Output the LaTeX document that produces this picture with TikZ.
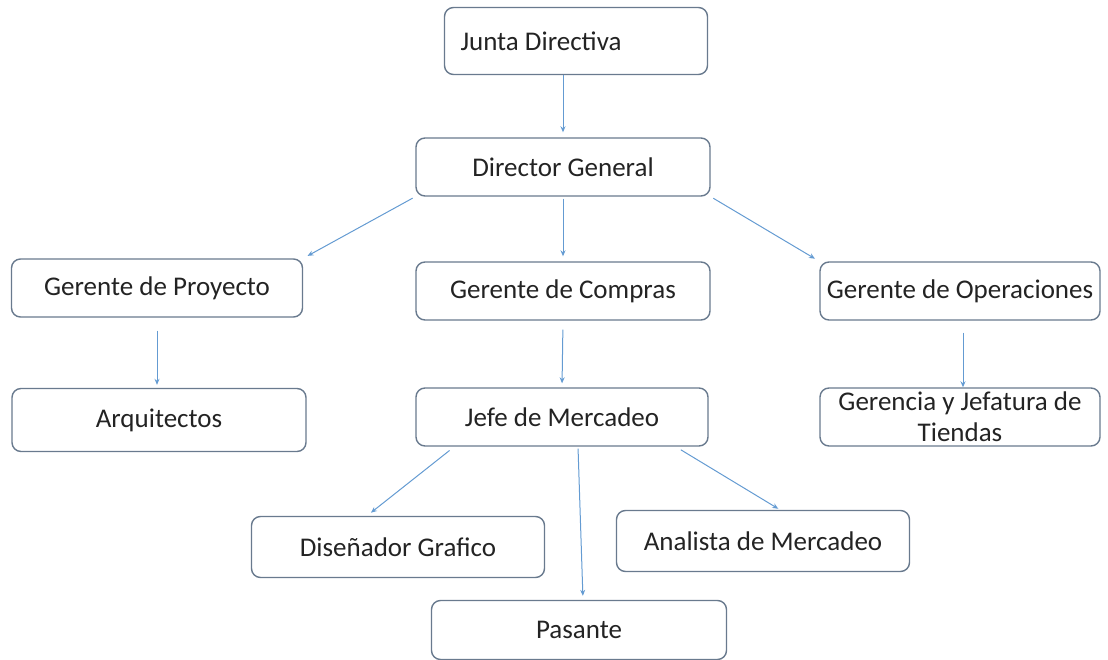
\documentclass[tikz,border=0pt]{standalone}
\usepackage{fontspec}
\setmainfont{Carlito}
\usetikzlibrary{arrows.meta}

\definecolor{boxline}{RGB}{105,122,142}
\definecolor{arrowblue}{RGB}{100,155,210}
\definecolor{textgray}{RGB}{35,35,35}

\tikzset{
    puesto/.style={draw=boxline, line width=1.4pt, rounded corners=9pt,
        minimum width=292pt, minimum height=58pt, text=textgray,
        font=\fontsize{27}{31}\selectfont, align=center, inner sep=2pt},
    flecha/.style={draw=arrowblue, line width=1pt,
        -{Stealth[length=6pt, width=5pt]}}
}

\begin{document}
\begin{tikzpicture}[x=1pt, y=-1pt]

    \useasboundingbox (0, 0) rectangle (1108, 660);

    % Top
    \node[puesto, minimum width=263pt, minimum height=67pt] (JD) at (576, 41) {Junta Directiva\hspace*{70pt}};
    \node[puesto, minimum width=294pt] (DG) at (563, 167) {Director General};

    % Gerentes
    \node[puesto, minimum width=291pt] (GP) at (157, 288) {Gerente de Proyecto};
    \node[puesto, minimum width=294pt] (GC) at (563, 291) {Gerente de Compras};
    \node[puesto, minimum width=280pt] (GO) at (960, 291) {Gerente de Operaciones};

    % Second level
    \node[puesto, minimum width=294pt, minimum height=63pt] (AR) at (159, 420) {Arquitectos};
    \node[puesto, minimum width=292pt] (JM) at (562, 417) {Jefe de Mercadeo};
    \node[puesto, minimum width=280pt] (GT) at (960, 417) {Gerencia y Jefatura de\\Tiendas};

    % Under Jefe de Mercadeo
    \node[puesto, minimum width=293pt, minimum height=61pt] (DI) at (398, 547) {Diseñador Grafico};
    \node[puesto, minimum width=293pt, minimum height=61pt] (AN) at (763, 541) {Analista de Mercadeo};
    \node[puesto, minimum width=295pt, minimum height=59pt] (PA) at (579, 630) {Pasante};

    % Lines
    \draw[flecha, shorten >=5pt] ([xshift=-13pt]JD.south) -- ([xshift=0pt]DG.north);
    \draw[flecha, shorten <=3pt, shorten >=5pt] (DG.south west) -- (GP.north east);
    \draw[flecha, shorten <=2pt, shorten >=5pt] (DG.south) -- (GC.north);
    \draw[flecha, shorten <=3pt, shorten >=5pt] (DG.south east) -- (GO.north west);
    \draw[flecha, shorten <=13pt, shorten >=3pt] (GP.south) -- (AR.north -| GP.south);
    \draw[flecha, shorten <=9pt, shorten >=4pt] (GC.south) -- (JM.north);
    \draw[flecha, shorten <=12pt] ([xshift=3pt]GO.south) -- ([xshift=3pt]GT.north);
    \draw[flecha, shorten <=6pt, shorten >=5pt] ([xshift=39pt]JM.south west) -- ([xshift=-31pt]DI.north);
    \draw[flecha, shorten <=2pt, shorten >=4pt] ([xshift=16pt]JM.south) -- ([xshift=4pt]PA.north);
    \draw[flecha, shorten <=6pt, shorten >=2pt] ([xshift=-33pt]JM.south east) -- ([xshift=17pt]AN.north);

\end{tikzpicture}
\end{document}
